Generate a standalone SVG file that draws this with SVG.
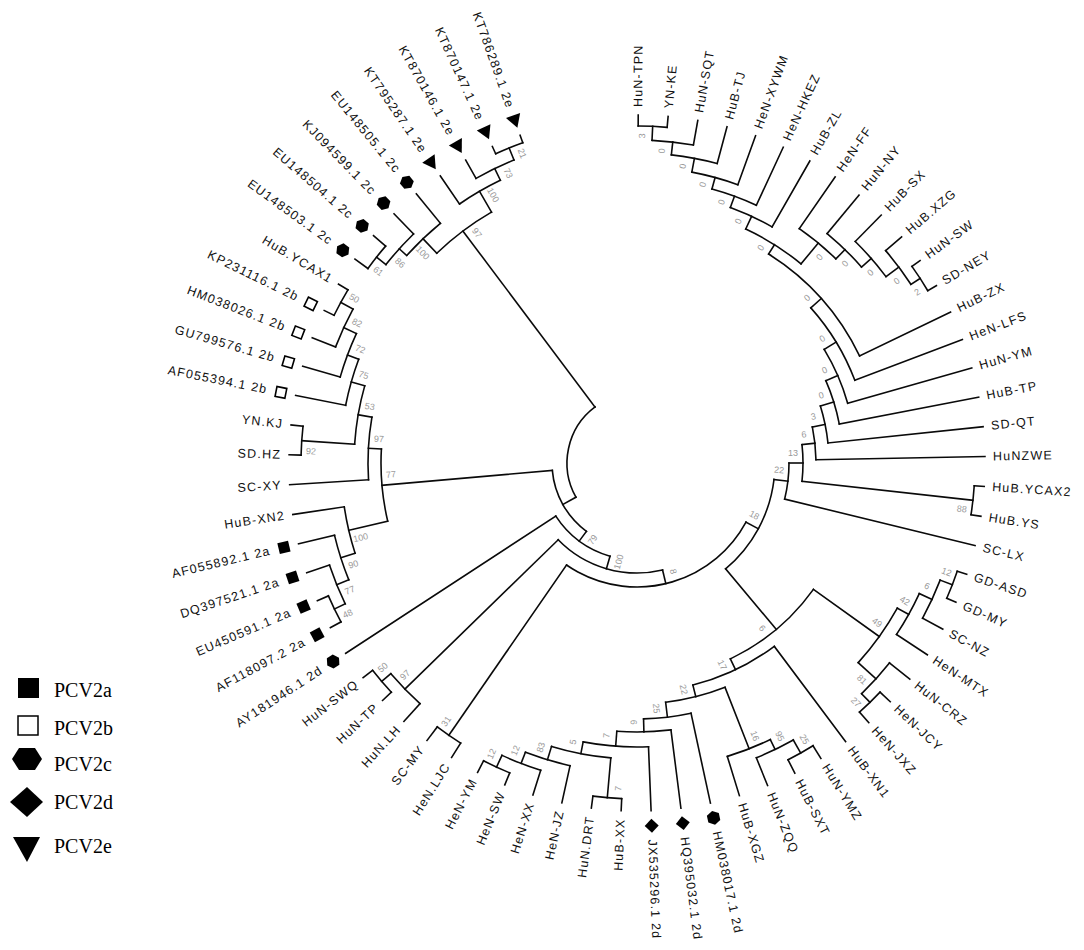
<svg xmlns="http://www.w3.org/2000/svg" xmlns:xlink="http://www.w3.org/1999/xlink" width="1084" height="950" viewBox="0 0 1084 950">
<style>
.br path,.br circle{fill:none;stroke:#0a0a0a;stroke-width:1.6;stroke-linecap:square}
.lf text{font-family:"Liberation Sans",Arial,sans-serif;font-size:12.5px;fill:#111;dominant-baseline:central;letter-spacing:1.2px}
.lf text.e{text-anchor:end}
.bs text{font-family:"Liberation Sans",Arial,sans-serif;font-size:9px;fill:#999;dominant-baseline:central;text-anchor:middle}
.lg text{font-family:"Liberation Serif","Times New Roman",serif;font-size:20px;fill:#000}
</style>
<defs>
<rect id="sq" x="-5.5" y="-5.5" width="11" height="11" fill="#000"/>
<rect id="osq" x="-5" y="-5" width="10" height="10" fill="#fff" stroke="#000" stroke-width="1.6"/>
<polygon id="hex" points="7,0 3.5,6.1 -3.5,6.1 -7,0 -3.5,-6.1 3.5,-6.1" fill="#000"/>
<polygon id="dia" points="7,0 0,7 -7,0 0,-7" fill="#000"/>
<polygon id="tri" points="-7,0 6,-7.5 6,7.5" fill="#000"/>
</defs>
<rect width="1084" height="950" fill="#fff"/>
<g transform="translate(637 463)">
<g id="connectors" class="br">
<circle pathLength="360" r="337" transform="rotate(-89.8)" stroke-dasharray="4.93 400"/>
<circle pathLength="360" r="323" transform="rotate(-87.335)" stroke-dasharray="7.395 400"/>
<circle pathLength="360" r="310" transform="rotate(-83.64)" stroke-dasharray="8.63 400"/>
<circle pathLength="360" r="296" transform="rotate(-79.325)" stroke-dasharray="9.245 400"/>
<circle pathLength="360" r="284" transform="rotate(-74.7)" stroke-dasharray="9.55 400"/>
<circle pathLength="360" r="272" transform="rotate(-69.93)" stroke-dasharray="9.71 400"/>
<circle pathLength="360" r="338" transform="rotate(-35.57)" stroke-dasharray="4.93 400"/>
<circle pathLength="360" r="327" transform="rotate(-40.5)" stroke-dasharray="7.395 400"/>
<circle pathLength="360" r="311" transform="rotate(-45.43)" stroke-dasharray="8.63 400"/>
<circle pathLength="360" r="298" transform="rotate(-50.36)" stroke-dasharray="9.245 400"/>
<circle pathLength="360" r="285" transform="rotate(-55.29)" stroke-dasharray="9.55 400"/>
<circle pathLength="360" r="258" transform="rotate(-65.075)" stroke-dasharray="14.56 400"/>
<circle pathLength="360" r="247" transform="rotate(-57.795)" stroke-dasharray="32.085 400"/>
<circle pathLength="360" r="233" transform="rotate(-41.75)" stroke-dasharray="20.97 400"/>
<circle pathLength="360" r="219" transform="rotate(-31.265)" stroke-dasharray="15.415 400"/>
<circle pathLength="360" r="206" transform="rotate(-23.56)" stroke-dasharray="12.64 400"/>
<circle pathLength="360" r="192" transform="rotate(-17.24)" stroke-dasharray="11.25 400"/>
<circle pathLength="360" r="179" transform="rotate(-11.615)" stroke-dasharray="10.555 400"/>
<circle pathLength="360" r="338" transform="rotate(3.87)" stroke-dasharray="4.93 400"/>
<circle pathLength="360" r="166" transform="rotate(-6.34)" stroke-dasharray="12.675 400"/>
<circle pathLength="360" r="152" transform="rotate(0)" stroke-dasharray="13.73 400"/>
<circle pathLength="360" r="338" transform="rotate(18.66)" stroke-dasharray="4.93 400"/>
<circle pathLength="360" r="325" transform="rotate(21.125)" stroke-dasharray="7.395 400"/>
<circle pathLength="360" r="311" transform="rotate(24.82)" stroke-dasharray="8.63 400"/>
<circle pathLength="360" r="334" transform="rotate(43.31)" stroke-dasharray="4.93 400"/>
<circle pathLength="360" r="322" transform="rotate(38.38)" stroke-dasharray="7.395 400"/>
<circle pathLength="360" r="298" transform="rotate(29.135)" stroke-dasharray="12.945 400"/>
<circle pathLength="360" r="333" transform="rotate(58.1)" stroke-dasharray="4.93 400"/>
<circle pathLength="360" r="318" transform="rotate(60.565)" stroke-dasharray="7.395 400"/>
<circle pathLength="360" r="307" transform="rotate(64.26)" stroke-dasharray="8.63 400"/>
<circle pathLength="360" r="336" transform="rotate(92.61)" stroke-dasharray="4.93 400"/>
<circle pathLength="360" r="335" transform="rotate(112.33)" stroke-dasharray="4.93 400"/>
<circle pathLength="360" r="322" transform="rotate(107.4)" stroke-dasharray="7.395 400"/>
<circle pathLength="360" r="310" transform="rotate(102.47)" stroke-dasharray="8.63 400"/>
<circle pathLength="360" r="296" transform="rotate(95.075)" stroke-dasharray="11.71 400"/>
<circle pathLength="360" r="284" transform="rotate(87.68)" stroke-dasharray="13.25 400"/>
<circle pathLength="360" r="269" transform="rotate(82.75)" stroke-dasharray="11.555 400"/>
<circle pathLength="360" r="256" transform="rotate(77.82)" stroke-dasharray="10.71 400"/>
<circle pathLength="360" r="241" transform="rotate(68.575)" stroke-dasharray="14.6 400"/>
<circle pathLength="360" r="229" transform="rotate(53.17)" stroke-dasharray="22.705 400"/>
<circle pathLength="360" r="217" transform="rotate(35.61)" stroke-dasharray="28.91 400"/>
<circle pathLength="360" r="138" transform="rotate(6.865)" stroke-dasharray="43.2 400"/>
<circle pathLength="360" r="331" transform="rotate(122.19)" stroke-dasharray="4.93 400"/>
<circle pathLength="360" r="124" transform="rotate(28.465)" stroke-dasharray="96.19 400"/>
<circle pathLength="360" r="336" transform="rotate(136.98)" stroke-dasharray="4.93 400"/>
<circle pathLength="360" r="324" transform="rotate(132.05)" stroke-dasharray="7.395 400"/>
<circle pathLength="360" r="110" transform="rotate(76.56)" stroke-dasharray="59.19 400"/>
<circle pathLength="360" r="97" transform="rotate(106.155)" stroke-dasharray="40.685 400"/>
<circle pathLength="360" r="336" transform="rotate(151.77)" stroke-dasharray="4.93 400"/>
<circle pathLength="360" r="324" transform="rotate(154.235)" stroke-dasharray="7.395 400"/>
<circle pathLength="360" r="311" transform="rotate(157.93)" stroke-dasharray="8.63 400"/>
<circle pathLength="360" r="296" transform="rotate(162.245)" stroke-dasharray="9.245 400"/>
<circle pathLength="360" r="336" transform="rotate(181.35)" stroke-dasharray="4.93 400"/>
<circle pathLength="360" r="337" transform="rotate(206)" stroke-dasharray="4.93 400"/>
<circle pathLength="360" r="323" transform="rotate(201.07)" stroke-dasharray="7.395 400"/>
<circle pathLength="360" r="309" transform="rotate(196.14)" stroke-dasharray="8.63 400"/>
<circle pathLength="360" r="297" transform="rotate(191.21)" stroke-dasharray="9.245 400"/>
<circle pathLength="360" r="283" transform="rotate(183.815)" stroke-dasharray="12.015 400"/>
<circle pathLength="360" r="269" transform="rotate(176.42)" stroke-dasharray="13.4 400"/>
<circle pathLength="360" r="256" transform="rotate(166.87)" stroke-dasharray="16.25 400"/>
<circle pathLength="360" r="85" transform="rotate(126.5)" stroke-dasharray="48.495 400"/>
<circle pathLength="360" r="332" transform="rotate(215.86)" stroke-dasharray="4.93 400"/>
<circle pathLength="360" r="320" transform="rotate(218.325)" stroke-dasharray="7.395 400"/>
<circle pathLength="360" r="310" transform="rotate(222.02)" stroke-dasharray="8.63 400"/>
<circle pathLength="360" r="340" transform="rotate(245.44)" stroke-dasharray="4.93 400"/>
<circle pathLength="360" r="327" transform="rotate(240.51)" stroke-dasharray="7.395 400"/>
<circle pathLength="360" r="314" transform="rotate(235.58)" stroke-dasharray="8.63 400"/>
<circle pathLength="360" r="290" transform="rotate(226.335)" stroke-dasharray="13.56 400"/>
<circle pathLength="360" r="70" transform="rotate(150.75)" stroke-dasharray="82.365 400"/>
<path transform="rotate(-89.8)" d="M337 0H348"/>
<path transform="rotate(-84.87)" d="M337 0H348"/>
<path transform="rotate(-79.94)" d="M323 0H348"/>
<path transform="rotate(-75.01)" d="M310 0H348"/>
<path transform="rotate(-70.08)" d="M296 0H348"/>
<path transform="rotate(-65.15)" d="M284 0H348"/>
<path transform="rotate(-60.22)" d="M272 0H348"/>
<path transform="rotate(-55.29)" d="M285 0H348"/>
<path transform="rotate(-50.36)" d="M298 0H348"/>
<path transform="rotate(-45.43)" d="M311 0H348"/>
<path transform="rotate(-40.5)" d="M327 0H348"/>
<path transform="rotate(-35.57)" d="M338 0H348"/>
<path transform="rotate(-30.64)" d="M338 0H348"/>
<path transform="rotate(-25.71)" d="M247 0H348"/>
<path transform="rotate(-20.78)" d="M233 0H348"/>
<path transform="rotate(-15.85)" d="M219 0H348"/>
<path transform="rotate(-10.92)" d="M206 0H348"/>
<path transform="rotate(-5.99)" d="M192 0H348"/>
<path transform="rotate(-1.06)" d="M179 0H348"/>
<path transform="rotate(3.87)" d="M338 0H348"/>
<path transform="rotate(8.8)" d="M338 0H348"/>
<path transform="rotate(13.73)" d="M152 0H348"/>
<path transform="rotate(18.66)" d="M338 0H348"/>
<path transform="rotate(23.59)" d="M338 0H348"/>
<path transform="rotate(28.52)" d="M325 0H348"/>
<path transform="rotate(33.45)" d="M311 0H348"/>
<path transform="rotate(38.38)" d="M322 0H348"/>
<path transform="rotate(43.31)" d="M334 0H348"/>
<path transform="rotate(48.24)" d="M334 0H348"/>
<path transform="rotate(53.17)" d="M229 0H348"/>
<path transform="rotate(58.1)" d="M333 0H348"/>
<path transform="rotate(63.03)" d="M333 0H348"/>
<path transform="rotate(67.96)" d="M318 0H348"/>
<path transform="rotate(72.89)" d="M307 0H348"/>
<path transform="rotate(77.82)" d="M256 0H348"/>
<path transform="rotate(82.75)" d="M269 0H348"/>
<path transform="rotate(87.68)" d="M284 0H348"/>
<path transform="rotate(92.61)" d="M336 0H348"/>
<path transform="rotate(97.54)" d="M336 0H348"/>
<path transform="rotate(102.47)" d="M310 0H348"/>
<path transform="rotate(107.4)" d="M322 0H348"/>
<path transform="rotate(112.33)" d="M335 0H348"/>
<path transform="rotate(117.26)" d="M335 0H348"/>
<path transform="rotate(122.19)" d="M331 0H348"/>
<path transform="rotate(127.12)" d="M331 0H348"/>
<path transform="rotate(132.05)" d="M324 0H348"/>
<path transform="rotate(136.98)" d="M336 0H348"/>
<path transform="rotate(141.91)" d="M336 0H348"/>
<path transform="rotate(146.84)" d="M97 0H348"/>
<path transform="rotate(151.77)" d="M336 0H348"/>
<path transform="rotate(156.7)" d="M336 0H348"/>
<path transform="rotate(161.63)" d="M324 0H348"/>
<path transform="rotate(166.56)" d="M311 0H348"/>
<path transform="rotate(171.49)" d="M296 0H348"/>
<path transform="rotate(176.42)" d="M269 0H348"/>
<path transform="rotate(181.35)" d="M336 0H348"/>
<path transform="rotate(186.28)" d="M336 0H348"/>
<path transform="rotate(191.21)" d="M297 0H348"/>
<path transform="rotate(196.14)" d="M309 0H348"/>
<path transform="rotate(201.07)" d="M323 0H348"/>
<path transform="rotate(206)" d="M337 0H348"/>
<path transform="rotate(210.93)" d="M337 0H348"/>
<path transform="rotate(215.86)" d="M332 0H348"/>
<path transform="rotate(220.79)" d="M332 0H348"/>
<path transform="rotate(225.72)" d="M320 0H348"/>
<path transform="rotate(230.65)" d="M310 0H348"/>
<path transform="rotate(235.58)" d="M314 0H348"/>
<path transform="rotate(240.51)" d="M327 0H348"/>
<path transform="rotate(245.44)" d="M340 0H348"/>
<path transform="rotate(250.37)" d="M340 0H348"/>
<path transform="rotate(-87.335)" d="M323 0H337"/>
<path transform="rotate(-83.64)" d="M310 0H323"/>
<path transform="rotate(-79.325)" d="M296 0H310"/>
<path transform="rotate(-74.7)" d="M284 0H296"/>
<path transform="rotate(-69.93)" d="M272 0H284"/>
<path transform="rotate(-65.075)" d="M258 0H272"/>
<path transform="rotate(-33.105)" d="M327 0H338"/>
<path transform="rotate(-36.8)" d="M311 0H327"/>
<path transform="rotate(-41.115)" d="M298 0H311"/>
<path transform="rotate(-45.74)" d="M285 0H298"/>
<path transform="rotate(-50.515)" d="M258 0H285"/>
<path transform="rotate(-57.795)" d="M247 0H258"/>
<path transform="rotate(-41.75)" d="M233 0H247"/>
<path transform="rotate(-31.265)" d="M219 0H233"/>
<path transform="rotate(-23.56)" d="M206 0H219"/>
<path transform="rotate(-17.24)" d="M192 0H206"/>
<path transform="rotate(-11.615)" d="M179 0H192"/>
<path transform="rotate(-6.34)" d="M166 0H179"/>
<path transform="rotate(6.335)" d="M166 0H338"/>
<path transform="rotate(0)" d="M152 0H166"/>
<path transform="rotate(6.865)" d="M138 0H152"/>
<path transform="rotate(21.125)" d="M325 0H338"/>
<path transform="rotate(24.82)" d="M311 0H325"/>
<path transform="rotate(29.135)" d="M298 0H311"/>
<path transform="rotate(45.775)" d="M322 0H334"/>
<path transform="rotate(42.08)" d="M298 0H322"/>
<path transform="rotate(35.61)" d="M217 0H298"/>
<path transform="rotate(60.565)" d="M318 0H333"/>
<path transform="rotate(64.26)" d="M307 0H318"/>
<path transform="rotate(68.575)" d="M241 0H307"/>
<path transform="rotate(95.075)" d="M296 0H336"/>
<path transform="rotate(114.795)" d="M322 0H335"/>
<path transform="rotate(111.1)" d="M310 0H322"/>
<path transform="rotate(106.785)" d="M296 0H310"/>
<path transform="rotate(100.93)" d="M284 0H296"/>
<path transform="rotate(94.305)" d="M269 0H284"/>
<path transform="rotate(88.53)" d="M256 0H269"/>
<path transform="rotate(83.175)" d="M241 0H256"/>
<path transform="rotate(75.875)" d="M229 0H241"/>
<path transform="rotate(64.52)" d="M217 0H229"/>
<path transform="rotate(50.065)" d="M138 0H217"/>
<path transform="rotate(28.465)" d="M124 0H138"/>
<path transform="rotate(124.655)" d="M124 0H331"/>
<path transform="rotate(76.56)" d="M110 0H124"/>
<path transform="rotate(139.445)" d="M324 0H336"/>
<path transform="rotate(135.75)" d="M110 0H324"/>
<path transform="rotate(106.155)" d="M97 0H110"/>
<path transform="rotate(126.5)" d="M85 0H97"/>
<path transform="rotate(154.235)" d="M324 0H336"/>
<path transform="rotate(157.93)" d="M311 0H324"/>
<path transform="rotate(162.245)" d="M296 0H311"/>
<path transform="rotate(166.87)" d="M256 0H296"/>
<path transform="rotate(183.815)" d="M283 0H336"/>
<path transform="rotate(208.465)" d="M323 0H337"/>
<path transform="rotate(204.77)" d="M309 0H323"/>
<path transform="rotate(200.455)" d="M297 0H309"/>
<path transform="rotate(195.83)" d="M283 0H297"/>
<path transform="rotate(189.82)" d="M269 0H283"/>
<path transform="rotate(183.12)" d="M256 0H269"/>
<path transform="rotate(174.995)" d="M85 0H256"/>
<path transform="rotate(150.75)" d="M70 0H85"/>
<path transform="rotate(218.325)" d="M320 0H332"/>
<path transform="rotate(222.02)" d="M310 0H320"/>
<path transform="rotate(226.335)" d="M290 0H310"/>
<path transform="rotate(247.905)" d="M327 0H340"/>
<path transform="rotate(244.21)" d="M314 0H327"/>
<path transform="rotate(239.895)" d="M290 0H314"/>
<path transform="rotate(233.115)" d="M70 0H290"/>
</g>
<g id="bootstrap" class="bs">
<text transform="rotate(-87.335) translate(327 -10)">3</text>
<text transform="rotate(-83.64) translate(313 -10)">0</text>
<text transform="rotate(-79.325) translate(300 -10)">0</text>
<text transform="rotate(-74.7) translate(286 -10)">0</text>
<text transform="rotate(-69.93) translate(274 -10)">0</text>
<text transform="rotate(-65.075) translate(262 -10)">0</text>
<text transform="rotate(-33.105) translate(328 10)">2</text>
<text transform="rotate(-36.8) translate(317 10)">0</text>
<text transform="rotate(-41.115) translate(301 10)">0</text>
<text transform="rotate(-45.74) translate(288 10)">0</text>
<text transform="rotate(-50.515) translate(275 10)">0</text>
<text transform="rotate(-57.795) translate(248 -10)">0</text>
<text transform="rotate(-41.75) translate(237 -10)">0</text>
<text transform="rotate(-31.265) translate(223 -10)">0</text>
<text transform="rotate(-23.56) translate(209 -10)">0</text>
<text transform="rotate(-17.24) translate(196 -10)">0</text>
<text transform="rotate(-11.615) translate(182 -10)">3</text>
<text transform="rotate(-6.34) translate(169 -10)">6</text>
<text transform="rotate(6.335) translate(328 10)">88</text>
<text transform="rotate(0) translate(156 -10)">13</text>
<text transform="rotate(6.865) translate(142 -10)">22</text>
<text transform="rotate(28.465) translate(128 -10)">18</text>
<text transform="rotate(21.125) translate(328 -10)">12</text>
<text transform="rotate(24.82) translate(315 -10)">6</text>
<text transform="rotate(29.135) translate(301 -10)">42</text>
<text transform="rotate(35.61) translate(288 -10)">49</text>
<text transform="rotate(42.08) translate(312 10)">81</text>
<text transform="rotate(45.775) translate(324 10)">27</text>
<text transform="rotate(50.065) translate(207 10)">6</text>
<text transform="rotate(64.52) translate(219 10)">17</text>
<text transform="rotate(75.875) translate(231 10)">22</text>
<text transform="rotate(68.575) translate(297 -10)">16</text>
<text transform="rotate(64.26) translate(308 -10)">95</text>
<text transform="rotate(60.565) translate(323 -10)">25</text>
<text transform="rotate(83.175) translate(246 10)">25</text>
<text transform="rotate(88.53) translate(259 10)">6</text>
<text transform="rotate(76.56) translate(114 -10)">8</text>
<text transform="rotate(94.305) translate(274 10) rotate(180)">7</text>
<text transform="rotate(100.93) translate(286 10) rotate(180)">5</text>
<text transform="rotate(106.785) translate(300 10) rotate(180)">83</text>
<text transform="rotate(111.1) translate(312 10) rotate(180)">12</text>
<text transform="rotate(114.795) translate(325 10) rotate(180)">12</text>
<text transform="rotate(95.075) translate(326 -10) rotate(180)">7</text>
<text transform="rotate(124.655) translate(321 10) rotate(180)">31</text>
<text transform="rotate(135.75) translate(314 10) rotate(180)">97</text>
<text transform="rotate(139.445) translate(326 10) rotate(180)">50</text>
<text transform="rotate(106.155) translate(100 -10) rotate(180)">100</text>
<text transform="rotate(126.5) translate(88 -10) rotate(180)">79</text>
<text transform="rotate(154.235) translate(326 -10) rotate(180)">48</text>
<text transform="rotate(157.93) translate(314 -10) rotate(180)">77</text>
<text transform="rotate(162.245) translate(301 -10) rotate(180)">90</text>
<text transform="rotate(166.87) translate(286 -10) rotate(180)">100</text>
<text transform="rotate(183.815) translate(326 -10) rotate(180)">92</text>
<text transform="rotate(208.465) translate(327 10) rotate(180)">50</text>
<text transform="rotate(204.77) translate(313 10) rotate(180)">82</text>
<text transform="rotate(200.455) translate(299 10) rotate(180)">72</text>
<text transform="rotate(195.83) translate(287 10) rotate(180)">75</text>
<text transform="rotate(189.82) translate(273 10) rotate(180)">53</text>
<text transform="rotate(183.12) translate(259 10) rotate(180)">97</text>
<text transform="rotate(174.995) translate(246 10) rotate(180)">77</text>
<text transform="rotate(218.325) translate(322 -10) rotate(180)">61</text>
<text transform="rotate(222.02) translate(310 -10) rotate(180)">86</text>
<text transform="rotate(226.335) translate(300 -10) rotate(180)">100</text>
<text transform="rotate(247.905) translate(330 10) rotate(180)">21</text>
<text transform="rotate(244.21) translate(317 10) rotate(180)">73</text>
<text transform="rotate(239.895) translate(304 10) rotate(180)">100</text>
<text transform="rotate(233.115) translate(280 10) rotate(180)">97</text>
</g>
<g class="lf">
<g id="leaf-HuN-TPN" transform="rotate(-89.8)"><text x="356">HuN-TPN</text></g>
<g id="leaf-YN-KE" transform="rotate(-84.87)"><text x="356">YN-KE</text></g>
<g id="leaf-HuN-SQT" transform="rotate(-79.94)"><text x="356">HuN-SQT</text></g>
<g id="leaf-HuB-TJ" transform="rotate(-75.01)"><text x="356">HuB-TJ</text></g>
<g id="leaf-HeN-XYWM" transform="rotate(-70.08)"><text x="356">HeN-XYWM</text></g>
<g id="leaf-HeN-HKEZ" transform="rotate(-65.15)"><text x="356">HeN-HKEZ</text></g>
<g id="leaf-HuB-ZL" transform="rotate(-60.22)"><text x="356">HuB-ZL</text></g>
<g id="leaf-HeN-FF" transform="rotate(-55.29)"><text x="356">HeN-FF</text></g>
<g id="leaf-HuN-NY" transform="rotate(-50.36)"><text x="356">HuN-NY</text></g>
<g id="leaf-HuB-SX" transform="rotate(-45.43)"><text x="356">HuB-SX</text></g>
<g id="leaf-HuB-XZG" transform="rotate(-40.5)"><text x="356">HuB.XZG</text></g>
<g id="leaf-HuN-SW" transform="rotate(-35.57)"><text x="356">HuN-SW</text></g>
<g id="leaf-SD-NEY" transform="rotate(-30.64)"><text x="356">SD-NEY</text></g>
<g id="leaf-HuB-ZX" transform="rotate(-25.71)"><text x="356">HuB-ZX</text></g>
<g id="leaf-HeN-LFS" transform="rotate(-20.78)"><text x="356">HeN-LFS</text></g>
<g id="leaf-HuN-YM" transform="rotate(-15.85)"><text x="356">HuN-YM</text></g>
<g id="leaf-HuB-TP" transform="rotate(-10.92)"><text x="356">HuB-TP</text></g>
<g id="leaf-SD-QT" transform="rotate(-5.99)"><text x="356">SD-QT</text></g>
<g id="leaf-HuNZWE" transform="rotate(-1.06)"><text x="356">HuNZWE</text></g>
<g id="leaf-HuB-YCAX2" transform="rotate(3.87)"><text x="356">HuB.YCAX2</text></g>
<g id="leaf-HuB-YS" transform="rotate(8.8)"><text x="356">HuB.YS</text></g>
<g id="leaf-SC-LX" transform="rotate(13.73)"><text x="356">SC-LX</text></g>
<g id="leaf-GD-ASD" transform="rotate(18.66)"><text x="356">GD-ASD</text></g>
<g id="leaf-GD-MY" transform="rotate(23.59)"><text x="356">GD-MY</text></g>
<g id="leaf-SC-NZ" transform="rotate(28.52)"><text x="356">SC-NZ</text></g>
<g id="leaf-HeN-MTX" transform="rotate(33.45)"><text x="356">HeN-MTX</text></g>
<g id="leaf-HuN-CRZ" transform="rotate(38.38)"><text x="356">HuN-CRZ</text></g>
<g id="leaf-HeN-JCY" transform="rotate(43.31)"><text x="356">HeN-JCY</text></g>
<g id="leaf-HeN-JXZ" transform="rotate(48.24)"><text x="356">HeN-JXZ</text></g>
<g id="leaf-HuB-XN1" transform="rotate(53.17)"><text x="356">HuB-XN1</text></g>
<g id="leaf-HuN-YMZ" transform="rotate(58.1)"><text x="356">HuN-YMZ</text></g>
<g id="leaf-HuB-SXT" transform="rotate(63.03)"><text x="356">HuB-SXT</text></g>
<g id="leaf-HuN-ZQQ" transform="rotate(67.96)"><text x="356">HuN-ZQQ</text></g>
<g id="leaf-HuB-XGZ" transform="rotate(72.89)"><text x="356">HuB-XGZ</text></g>
<g id="leaf-HM038017" transform="rotate(77.82)"><use href="#hex" x="363"/><text x="377">HM038017.1 2d</text></g>
<g id="leaf-HQ395032" transform="rotate(82.75)"><use href="#dia" x="363"/><text x="377">HQ395032.1 2d</text></g>
<g id="leaf-JX535296" transform="rotate(87.68)"><use href="#dia" x="363"/><text x="377">JX535296.1 2d</text></g>
<g id="leaf-HuB-XX" transform="rotate(92.61)"><text class="e" transform="translate(356 0) rotate(180)">HuB-XX</text></g>
<g id="leaf-HuN-DRT" transform="rotate(97.54)"><text class="e" transform="translate(356 0) rotate(180)">HuN.DRT</text></g>
<g id="leaf-HeN-JZ" transform="rotate(102.47)"><text class="e" transform="translate(356 0) rotate(180)">HeN-JZ</text></g>
<g id="leaf-HeN-XX" transform="rotate(107.4)"><text class="e" transform="translate(356 0) rotate(180)">HeN-XX</text></g>
<g id="leaf-HeN-SW" transform="rotate(112.33)"><text class="e" transform="translate(356 0) rotate(180)">HeN-SW</text></g>
<g id="leaf-HeN-YM" transform="rotate(117.26)"><text class="e" transform="translate(356 0) rotate(180)">HeN-YM</text></g>
<g id="leaf-HeN-LJC" transform="rotate(122.19)"><text class="e" transform="translate(356 0) rotate(180)">HeN.LJC</text></g>
<g id="leaf-SC-MY" transform="rotate(127.12)"><text class="e" transform="translate(356 0) rotate(180)">SC-MY</text></g>
<g id="leaf-HuN-LH" transform="rotate(132.05)"><text class="e" transform="translate(356 0) rotate(180)">HuN.LH</text></g>
<g id="leaf-HuN-TP" transform="rotate(136.98)"><text class="e" transform="translate(356 0) rotate(180)">HuN-TP</text></g>
<g id="leaf-HuN-SWQ" transform="rotate(141.91)"><text class="e" transform="translate(356 0) rotate(180)">HuN-SWQ</text></g>
<g id="leaf-AY181946" transform="rotate(146.84)"><use href="#hex" x="363"/><text class="e" transform="translate(377 0) rotate(180)">AY181946.1 2d</text></g>
<g id="leaf-AF118097" transform="rotate(151.77)"><use href="#sq" x="363"/><text class="e" transform="translate(377 0) rotate(180)">AF118097.2 2a</text></g>
<g id="leaf-EU450591" transform="rotate(156.7)"><use href="#sq" x="363"/><text class="e" transform="translate(377 0) rotate(180)">EU450591.1 2a</text></g>
<g id="leaf-DQ397521" transform="rotate(161.63)"><use href="#sq" x="363"/><text class="e" transform="translate(377 0) rotate(180)">DQ397521.1 2a</text></g>
<g id="leaf-AF055892" transform="rotate(166.56)"><use href="#sq" x="363"/><text class="e" transform="translate(377 0) rotate(180)">AF055892.1 2a</text></g>
<g id="leaf-HuB-XN2" transform="rotate(171.49)"><text class="e" transform="translate(356 0) rotate(180)">HuB-XN2</text></g>
<g id="leaf-SC-XY" transform="rotate(176.42)"><text class="e" transform="translate(356 0) rotate(180)">SC-XY</text></g>
<g id="leaf-SD-HZ" transform="rotate(181.35)"><text class="e" transform="translate(356 0) rotate(180)">SD.HZ</text></g>
<g id="leaf-YN-KJ" transform="rotate(186.28)"><text class="e" transform="translate(356 0) rotate(180)">YN.KJ</text></g>
<g id="leaf-AF055394" transform="rotate(191.21)"><use href="#osq" x="363"/><text class="e" transform="translate(377 0) rotate(180)">AF055394.1 2b</text></g>
<g id="leaf-GU799576" transform="rotate(196.14)"><use href="#osq" x="363"/><text class="e" transform="translate(377 0) rotate(180)">GU799576.1 2b</text></g>
<g id="leaf-HM038026" transform="rotate(201.07)"><use href="#osq" x="363"/><text class="e" transform="translate(377 0) rotate(180)">HM038026.1 2b</text></g>
<g id="leaf-KP231116" transform="rotate(206)"><use href="#osq" x="363"/><text class="e" transform="translate(377 0) rotate(180)">KP231116.1 2b</text></g>
<g id="leaf-HuB-YCAX1" transform="rotate(210.93)"><text class="e" transform="translate(356 0) rotate(180)">HuB.YCAX1</text></g>
<g id="leaf-EU148503" transform="rotate(215.86)"><use href="#hex" x="363"/><text class="e" transform="translate(377 0) rotate(180)">EU148503.1 2c</text></g>
<g id="leaf-EU148504" transform="rotate(220.79)"><use href="#hex" x="363"/><text class="e" transform="translate(377 0) rotate(180)">EU148504.1 2c</text></g>
<g id="leaf-KJ094599" transform="rotate(225.72)"><use href="#hex" x="363"/><text class="e" transform="translate(377 0) rotate(180)">KJ094599.1 2c</text></g>
<g id="leaf-EU148505" transform="rotate(230.65)"><use href="#hex" x="363"/><text class="e" transform="translate(377 0) rotate(180)">EU148505.1 2c</text></g>
<g id="leaf-KT795287" transform="rotate(235.58)"><use href="#tri" x="363"/><text class="e" transform="translate(377 0) rotate(180)">KT795287.1 2e</text></g>
<g id="leaf-KT870146" transform="rotate(240.51)"><use href="#tri" x="363"/><text class="e" transform="translate(377 0) rotate(180)">KT870146.1 2e</text></g>
<g id="leaf-KT870147" transform="rotate(245.44)"><use href="#tri" x="363"/><text class="e" transform="translate(377 0) rotate(180)">KT870147.1 2e</text></g>
<g id="leaf-KT786289" transform="rotate(250.37)"><use href="#tri" x="363"/><text class="e" transform="translate(377 0) rotate(180)">KT786289.1 2e</text></g>
</g>
</g>
<g id="legend" class="lg">
<g id="legend-PCV2a"><rect x="18" y="678" width="21" height="20" fill="#000"/><text x="54" y="697">PCV2a</text></g>
<g id="legend-PCV2b"><rect x="18" y="716" width="20" height="19" fill="#fff" stroke="#000" stroke-width="1.5"/><text x="54" y="735">PCV2b</text></g>
<g id="legend-PCV2c"><polygon points="12,759 19,748 35,748 42,759 35,770 19,770" fill="#000"/><text x="54" y="771">PCV2c</text></g>
<g id="legend-PCV2d"><polygon points="10,802 27,787 43,802 27,817" fill="#000"/><text x="54" y="809">PCV2d</text></g>
<g id="legend-PCV2e"><polygon points="13,837 40,837 27,862" fill="#000"/><text x="54" y="853">PCV2e</text></g>
</g>
</svg>
